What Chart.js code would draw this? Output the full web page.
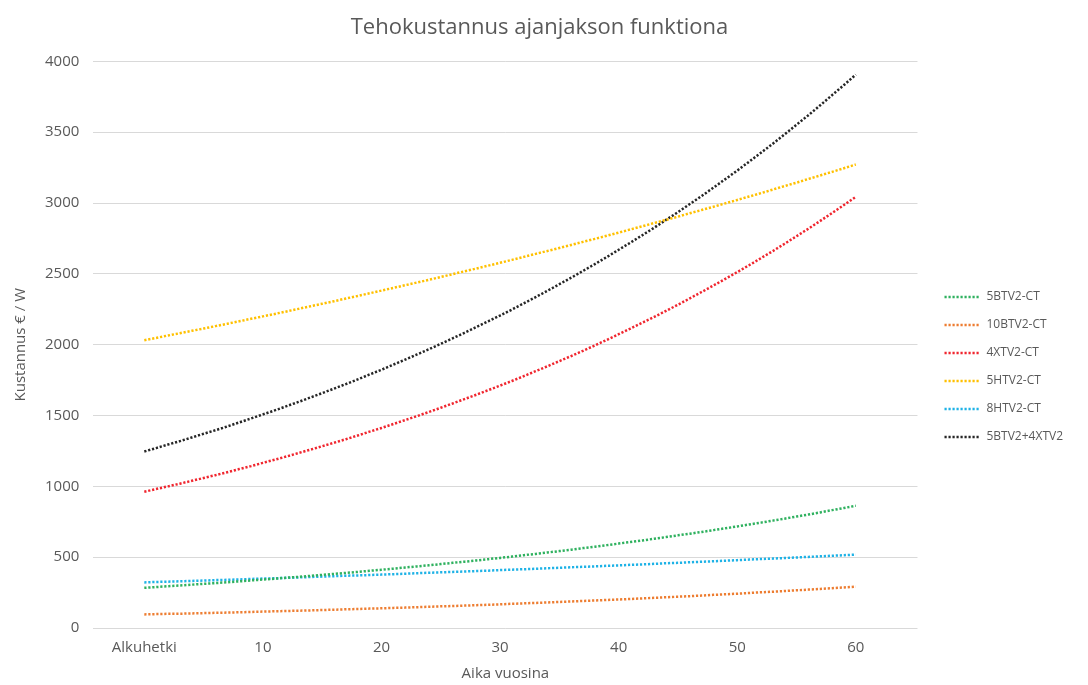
<!DOCTYPE html>
<html>
<head>
<meta charset="utf-8">
<script src="https://cdn.jsdelivr.net/npm/chart.js@4.4.1/dist/chart.umd.min.js"></script>
<style>
  html, body { margin: 0; padding: 0; background: #ffffff; }
  #wrap { width: 1088px; height: 685px; }
</style>
</head>
<body>
<div id="wrap"><canvas id="chart" width="1088" height="685"></canvas></div>
<script>
// x categories: start point + years 1..60
const categories = ['Alkuhetki',
  '1','2','3','4','5','6','7','8','9','10',
  '11','12','13','14','15','16','17','18','19','20',
  '21','22','23','24','25','26','27','28','29','30',
  '31','32','33','34','35','36','37','38','39','40',
  '41','42','43','44','45','46','47','48','49','50',
  '51','52','53','54','55','56','57','58','59','60'];
const tickYears = [0, 10, 20, 30, 40, 50, 60];

const s5BTV2 = [284, 289, 295, 300, 306, 312, 317, 323, 329, 336, 342, 348, 355, 361, 368, 375, 382, 389, 396, 404,
  411, 419, 427, 435, 443, 451, 460, 468, 477, 486, 495, 504, 514, 523, 533, 543, 553, 564, 574, 585,
  596, 607, 618, 630, 642, 654, 666, 678, 691, 704, 717, 731, 744, 758, 772, 787, 801, 816, 832, 847, 863];
const s10BTV2 = [96, 98, 100, 101, 103, 105, 107, 109, 111, 113, 116, 118, 120, 122, 124, 127, 129, 132, 134, 137,
  139, 142, 144, 147, 150, 153, 155, 158, 161, 164, 167, 171, 174, 177, 180, 184, 187, 191, 194, 198,
  201, 205, 209, 213, 217, 221, 225, 229, 234, 238, 242, 247, 252, 256, 261, 266, 271, 276, 281, 286, 292];
const s4XTV2 = [962, 981, 1000, 1019, 1039, 1059, 1079, 1100, 1122, 1143, 1166, 1188, 1211, 1235, 1259, 1283, 1308, 1333, 1359, 1386,
  1412, 1440, 1468, 1496, 1525, 1555, 1585, 1616, 1647, 1679, 1711, 1744, 1778, 1813, 1848, 1884, 1920, 1957, 1995, 2034,
  2074, 2114, 2155, 2196, 2239, 2282, 2327, 2372, 2418, 2465, 2512, 2561, 2611, 2661, 2713, 2766, 2819, 2874, 2930, 2986, 3044];
const s5HTV2 = [2032, 2048, 2065, 2081, 2098, 2114, 2131, 2148, 2165, 2183, 2200, 2217, 2235, 2253, 2271, 2289, 2307, 2326, 2344, 2363,
  2382, 2401, 2420, 2439, 2458, 2478, 2498, 2518, 2538, 2558, 2578, 2599, 2620, 2641, 2662, 2683, 2704, 2726, 2747, 2769,
  2791, 2814, 2836, 2859, 2881, 2904, 2928, 2951, 2974, 2998, 3022, 3046, 3070, 3095, 3120, 3144, 3170, 3195, 3220, 3246, 3272];
const s8HTV2 = [322, 325, 327, 330, 332, 335, 338, 340, 343, 346, 349, 351, 354, 357, 360, 363, 366, 369, 371, 374,
  377, 380, 383, 387, 390, 393, 396, 399, 402, 405, 409, 412, 415, 418, 422, 425, 429, 432, 435, 439,
  442, 446, 449, 453, 457, 460, 464, 468, 471, 475, 479, 483, 487, 490, 494, 498, 502, 506, 510, 514, 518];
const sCombo = [1246, 1270, 1295, 1319, 1345, 1371, 1396, 1423, 1451, 1479, 1508, 1536, 1566, 1596, 1627, 1658, 1690, 1722, 1755, 1790,
  1823, 1859, 1895, 1931, 1968, 2006, 2045, 2084, 2124, 2165, 2206, 2248, 2292, 2336, 2381, 2427, 2473, 2521, 2569, 2619,
  2670, 2721, 2773, 2826, 2881, 2936, 2993, 3050, 3109, 3169, 3229, 3292, 3355, 3419, 3485, 3553, 3620, 3690, 3762, 3833, 3907];

const seriesNames = ['5BTV2-CT', '10BTV2-CT', '4XTV2-CT', '5HTV2-CT', '8HTV2-CT', '5BTV2+4XTV2'];
const seriesColors = ['#2fb15f', '#ed7d31', '#f0262f', '#ffc000', '#1eb2e6', '#262626'];
const seriesValues = [s5BTV2, s10BTV2, s4XTV2, s5HTV2, s8HTV2, sCombo];

const textColor = '#595959';
const fontFamily = '"Open Sans", "DejaVu Sans", sans-serif';
const dots = [2.2, 1.8];

const datasets = seriesValues.map((vals, i) => ({
  label: seriesNames[i],
  data: vals.map((v, idx) => ({ x: idx, y: v })),
  borderColor: seriesColors[i],
  backgroundColor: seriesColors[i],
  borderWidth: 2.5,
  borderDash: dots,
  pointRadius: 0,
  fill: false,
  tension: 0
}));

new Chart(document.getElementById('chart'), {
  type: 'line',
  data: { datasets: datasets },
  options: {
    responsive: false,
    animation: false,
    layout: { padding: { left: 6, right: 15, top: 8, bottom: 2 } },
    plugins: {
      title: {
        display: true,
        text: 'Tehokustannus ajanjakson funktiona',
        color: textColor,
        font: { family: fontFamily, size: 22, weight: 'normal' },
        padding: { top: 7, bottom: 20 }
      },
      legend: {
        position: 'right',
        align: 'center',
        title: { display: true, text: '', font: { size: 1, lineHeight: 1 }, padding: 21 },
        labels: {
          color: textColor,
          font: { family: fontFamily, size: 12 },
          usePointStyle: true,
          pointStyle: 'line',
          pointStyleWidth: 36,
          boxHeight: 4,
          padding: 16,
          generateLabels: (chart) => Chart.defaults.plugins.legend.labels.generateLabels(chart)
            .map(item => Object.assign(item, { lineDash: dots, lineWidth: 2.5 }))
        }
      },
      tooltip: { enabled: false }
    },
    scales: {
      x: {
        type: 'linear',
        min: -4.3,
        max: 65.2,
        afterBuildTicks: (scale) => {
          scale.ticks = tickYears.map(v => ({ value: v }));
        },
        ticks: {
          color: textColor,
          font: { family: fontFamily, size: 15 },
          maxRotation: 0,
          autoSkip: false,
          padding: 11,
          callback: (v) => categories[v]
        },
        grid: { display: false, drawTicks: false },
        border: { display: false },
        title: {
          display: true,
          text: 'Aika vuosina',
          color: textColor,
          font: { family: fontFamily, size: 15 },
          padding: { top: -3, bottom: 0 }
        }
      },
      y: {
        min: 0,
        max: 4000,
        ticks: {
          stepSize: 500,
          color: textColor,
          font: { family: fontFamily, size: 15 },
          padding: 14,
          callback: (v) => String(v)
        },
        grid: { color: '#d9d9d9', drawTicks: false },
        border: { display: false },
        title: {
          display: true,
          text: 'Kustannus € / W',
          color: textColor,
          font: { family: fontFamily, size: 15 },
          padding: { top: 6, bottom: 1 }
        }
      },
      // empty right-hand axis: only keeps a gap between the plot and the legend
      gap: {
        position: 'right',
        display: true,
        ticks: { display: false },
        grid: { display: false },
        border: { display: false },
        afterFit: (scale) => { scale.width = 11; }
      }
    }
  }
});
</script>
</body>
</html>
